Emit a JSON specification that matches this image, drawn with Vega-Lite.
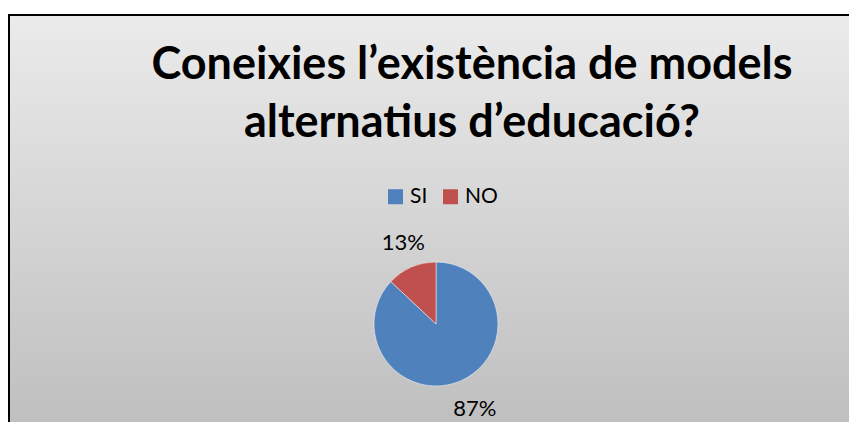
{
  "$schema": "https://vega.github.io/schema/vega-lite/v6.json",
  "autosize": "none",
  "width": 854,
  "height": 618,
  "padding": {"left": 9, "top": 15, "right": 0, "bottom": 0},
  "background": "white",
  "config": {
    "view": {"stroke": "#000000", "strokeWidth": 2},
    "font": "Lato"
  },
  "title": {
    "text": ["Coneixies l’existència de models", "alternatius d’educació?"],
    "font": "Lato",
    "fontSize": 45,
    "fontWeight": "bold",
    "color": "#000000",
    "lineHeight": 58,
    "anchor": "middle",
    "frame": "group",
    "orient": "top",
    "baseline": "top",
    "offset": 0,
    "dx": 36,
    "dy": 132
  },
  "data": {
    "values": [
      {"resposta": "SI", "value": 0.87},
      {"resposta": "NO", "value": 0.13}
    ]
  },
  "layer": [
    {
      "mark": {
        "type": "rect",
        "stroke": "#000000",
        "strokeWidth": 2,
        "color": {
          "gradient": "linear",
          "x1": 0, "y1": 0, "x2": 0, "y2": 1,
          "stops": [
            {"offset": 0, "color": "#ebebeb"},
            {"offset": 0.659, "color": "#bfbfbf"},
            {"offset": 1, "color": "#bfbfbf"}
          ]
        }
      },
      "encoding": {}
    },
    {
      "mark": {"type": "arc", "radius": 62, "stroke": "#ffffff", "strokeWidth": 0.5},
      "encoding": {
        "theta": {"field": "value", "type": "quantitative", "stack": true},
        "order": {"field": "value", "sort": "descending"},
        "color": {
          "field": "resposta",
          "type": "nominal",
          "scale": {"domain": ["SI", "NO"], "range": ["#4f81bd", "#c0504d"]},
          "legend": {
            "title": null,
            "orient": "none",
            "direction": "horizontal",
            "legendX": 376,
            "legendY": 171,
            "symbolType": "square",
            "symbolSize": 225,
            "symbolStrokeWidth": 0,
            "labelFont": "Lato",
            "labelFontSize": 21,
            "labelColor": "#000000",
            "labelOffset": 4,
            "columnPadding": 12
          }
        }
      }
    },
    {
      "mark": {"type": "text", "radius": 90, "dx": 3, "dy": 2, "font": "Lato", "fontSize": 22, "color": "#000000"},
      "encoding": {
        "theta": {"field": "value", "type": "quantitative", "stack": true},
        "order": {"field": "value", "sort": "descending"},
        "text": {"field": "value", "type": "quantitative", "format": ".0%"}
      }
    }
  ]
}
